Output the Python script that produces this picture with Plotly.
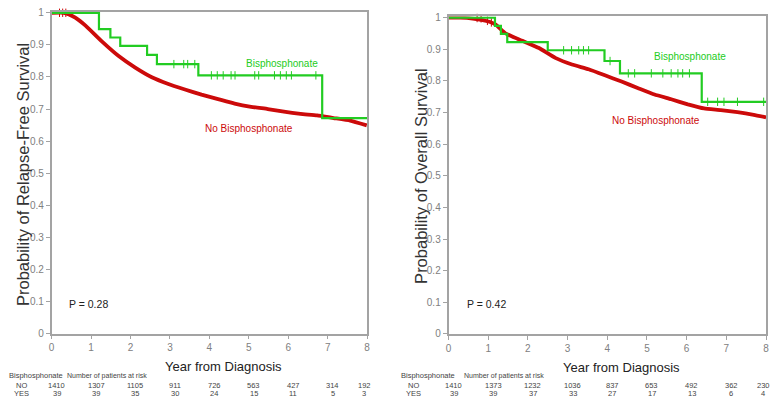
import plotly.graph_objects as go

# ---------------- data ----------------
years = [0, 1, 2, 3, 4, 5, 6, 7, 8]
y_ticks = [0, 0.1, 0.2, 0.3, 0.4, 0.5, 0.6, 0.7, 0.8, 0.9, 1]
y_tick_text = ["0", "0.1", "0.2", "0.3", "0.4", "0.5", "0.6", "0.7", "0.8", "0.9", "1"]

# Relapse-free survival
rfs_no_t = [0, 0.3, 0.44, 0.6, 0.86, 1.28, 1.70, 2.12, 2.54, 2.96, 3.38, 3.80, 4.22,
            4.64, 5.06, 5.48, 5.89, 6.31, 6.73, 7.15, 7.57, 7.99]
rfs_no_s = [1, 1, 0.995, 0.985, 0.96, 0.91, 0.865, 0.829, 0.799, 0.778, 0.761, 0.745, 0.731,
            0.717, 0.707, 0.70, 0.692, 0.685, 0.68, 0.672, 0.664, 0.649]
rfs_yes_t = [0, 1.2, 1.49, 1.74, 2.42, 2.67, 3.72, 6.86, 8]
rfs_yes_s = [1, 0.949, 0.923, 0.897, 0.869, 0.84, 0.805, 0.672, 0.672]
rfs_yes_cens_t = [3.1, 3.35, 3.45, 3.63, 4.05, 4.2, 4.35, 4.55, 4.65, 5.15, 5.25, 5.65, 5.8,
                  5.95, 6.08, 6.7]
rfs_yes_cens_s = [0.84, 0.84, 0.84, 0.84, 0.805, 0.805, 0.805, 0.805, 0.805, 0.805, 0.805,
                  0.805, 0.805, 0.805, 0.805, 0.805]
rfs_no_cens_t = [0.2, 0.28, 0.36]
rfs_no_cens_s = [1, 1, 1]
rfs_risk_no = [1410, 1307, 1105, 911, 726, 563, 427, 314, 192]
rfs_risk_yes = [39, 39, 35, 30, 24, 15, 11, 5, 3]
rfs_p = "P = 0.28"

# Overall survival
os_no_t = [0, 0.3, 0.61, 1.03, 1.19, 1.44, 1.86, 2.28, 2.69, 3.11, 3.53, 3.94, 4.36, 4.78,
           5.19, 5.61, 6.03, 6.44, 6.86, 7.28, 7.69, 8.0]
os_no_s = [1, 1, 0.997, 0.987, 0.978, 0.95, 0.927, 0.904, 0.873, 0.852, 0.837, 0.818, 0.798,
           0.777, 0.757, 0.742, 0.726, 0.713, 0.708, 0.701, 0.693, 0.685]
os_yes_t = [0, 1.17, 1.32, 1.48, 2.5, 3.93, 4.32, 6.38, 8]
os_yes_s = [1, 0.974, 0.949, 0.923, 0.897, 0.863, 0.824, 0.734, 0.734]
os_yes_cens_t = [2.9, 3.1, 3.28, 3.4, 3.53, 4.07, 4.53, 4.69, 5.11, 5.4, 5.61, 5.78, 5.9,
                 6.07, 6.53, 6.78, 6.94, 7.28, 7.94]
os_yes_cens_s = [0.897, 0.897, 0.897, 0.897, 0.897, 0.863, 0.824, 0.824, 0.824, 0.824, 0.824,
                 0.824, 0.824, 0.824, 0.734, 0.734, 0.734, 0.734, 0.734]
os_no_cens_t = [0.72, 0.82, 0.98, 1.08]
os_no_cens_s = [0.999, 0.998, 0.99, 0.985]
os_risk_no = [1410, 1373, 1232, 1036, 837, 653, 492, 362, 230]
os_risk_yes = [39, 39, 37, 33, 27, 17, 13, 6, 4]
os_p = "P = 0.42"

# ---------------- style ----------------
W, H = 773, 411
GREEN = "#22cc22"
RED = "#cc0a0a"
AXIS = "#a3a3a3"
SANS = "Liberation Sans, Arial, sans-serif"
YTOP = 1.004


def px_x(p):
    return p / W


def px_y(p):
    return 1 - p / H


fig = go.Figure()

panels = [
    dict(xa="x", ya="y", no_t=rfs_no_t, no_s=rfs_no_s, yes_t=rfs_yes_t, yes_s=rfs_yes_s,
         yc_t=rfs_yes_cens_t, yc_s=rfs_yes_cens_s, nc_t=rfs_no_cens_t, nc_s=rfs_no_cens_s),
    dict(xa="x2", ya="y2", no_t=os_no_t, no_s=os_no_s, yes_t=os_yes_t, yes_s=os_yes_s,
         yc_t=os_yes_cens_t, yc_s=os_yes_cens_s, nc_t=os_no_cens_t, nc_s=os_no_cens_s),
]

for p in panels:
    fig.add_trace(go.Scatter(x=p["no_t"], y=p["no_s"], mode="lines", xaxis=p["xa"], yaxis=p["ya"],
                             line=dict(color=RED, width=3.8, shape="spline", smoothing=0.4),
                             showlegend=False, hoverinfo="skip"))
    fig.add_trace(go.Scatter(x=p["nc_t"], y=p["nc_s"], mode="markers", xaxis=p["xa"], yaxis=p["ya"],
                             marker=dict(symbol="line-ns-open", size=6, color=RED,
                                         line=dict(color=RED, width=1)),
                             showlegend=False, hoverinfo="skip", cliponaxis=False))
    fig.add_trace(go.Scatter(x=p["yes_t"], y=p["yes_s"], mode="lines", xaxis=p["xa"], yaxis=p["ya"],
                             line=dict(color=GREEN, width=2.2, shape="hv"),
                             showlegend=False, hoverinfo="skip"))
    fig.add_trace(go.Scatter(x=p["yc_t"], y=p["yc_s"], mode="markers", xaxis=p["xa"], yaxis=p["ya"],
                             marker=dict(symbol="line-ns-open", size=6, color=GREEN,
                                         line=dict(color=GREEN, width=1)),
                             showlegend=False, hoverinfo="skip", cliponaxis=False))

axis_common = dict(showgrid=False, zeroline=False, showline=True, linecolor=AXIS, linewidth=1.6,
                   mirror=True, ticks="outside", ticklen=4, tickwidth=1, tickcolor=AXIS,
                   tickfont=dict(family=SANS, size=10, color="#808080"), fixedrange=True)

fig.update_layout(
    width=W, height=H, margin=dict(l=0, r=0, t=0, b=0),
    paper_bgcolor="white", plot_bgcolor="white",
    xaxis=dict(domain=[px_x(49), px_x(367)], range=[0, 8], tickvals=years, anchor="y", **axis_common),
    yaxis=dict(domain=[px_y(337), px_y(9 - (YTOP - 1) * 328)], range=[0, YTOP], tickvals=y_ticks,
               ticktext=y_tick_text, anchor="x", **axis_common),
    xaxis2=dict(domain=[px_x(449), px_x(769)], range=[0, 8], tickvals=years, anchor="y2", **axis_common),
    yaxis2=dict(domain=[px_y(337.3), px_y(14 - (YTOP - 1) * 323)], range=[0, YTOP], tickvals=y_ticks,
                ticktext=y_tick_text, anchor="x2", **axis_common),
)

ann = []


def add(text, x, y, xref="paper", yref="paper", size=10, color="#222222", angle=0, xshift=0):
    ann.append(dict(text=text, x=x, y=y, xref=xref, yref=yref, xanchor="center", yanchor="middle",
                    showarrow=False, textangle=angle, xshift=xshift,
                    font=dict(family=SANS, size=size, color=color)))


# axis titles
add("Probability of Relapse-Free Survival", px_x(20), px_y(174), size=16.5, color="#333333", angle=-90)
add("Probability of Overall Survival", px_x(421), px_y(176), size=16.5, color="#333333", angle=-90)
add("Year from Diagnosis", px_x(222), px_y(371), size=13, color="#222222")
add("Year from Diagnosis", px_x(623), px_y(372), size=13, color="#222222")

# curve labels and p-values
add("Bisphosphonate", 5.84, 0.841, "x", "y", size=10, color=GREEN)
add("No Bisphosphonate", 5.0, 0.64, "x", "y", size=10, color=RED)
add("Bisphosphonate", 6.08, 0.876, "x2", "y2", size=10, color=GREEN)
add("No Bisphosphonate", 5.22, 0.675, "x2", "y2", size=10, color=RED)
add(rfs_p, 0.93, 0.091, "x", "y", size=10.5)
add(os_p, 0.95, 0.094, "x2", "y2", size=10.5)

# risk tables
tables = [
    ("x", 33, 19, 105, rfs_risk_no, rfs_risk_yes),
    ("x2", 428, 414, 505, os_risk_no, os_risk_yes),
]
for xa, head_px, row_px, nrisk_px, no_vals, yes_vals in tables:
    add("Bisphosphonate", px_x(head_px), px_y(380), size=7.5, color="#444444")
    add("Number of patients at risk", px_x(nrisk_px), px_y(380), size=7, color="#444444")
    add("NO", px_x(row_px), px_y(390), size=7.5, color="#444444")
    add("YES", px_x(row_px), px_y(398), size=7.5, color="#444444")
    for i, yr in enumerate(years):
        shift = 5 if i < len(years) - 1 else -3
        add(str(no_vals[i]), yr, px_y(390), xa, "paper", size=7.5, color="#444444", xshift=shift)
        add(str(yes_vals[i]), yr, px_y(398), xa, "paper", size=7.5, color="#444444", xshift=shift)

fig.update_layout(annotations=ann)
fig.write_html("out.html", config={"displayModeBar": False},
               post_script="document.body.style.margin='0px';document.body.style.overflow='hidden';")
